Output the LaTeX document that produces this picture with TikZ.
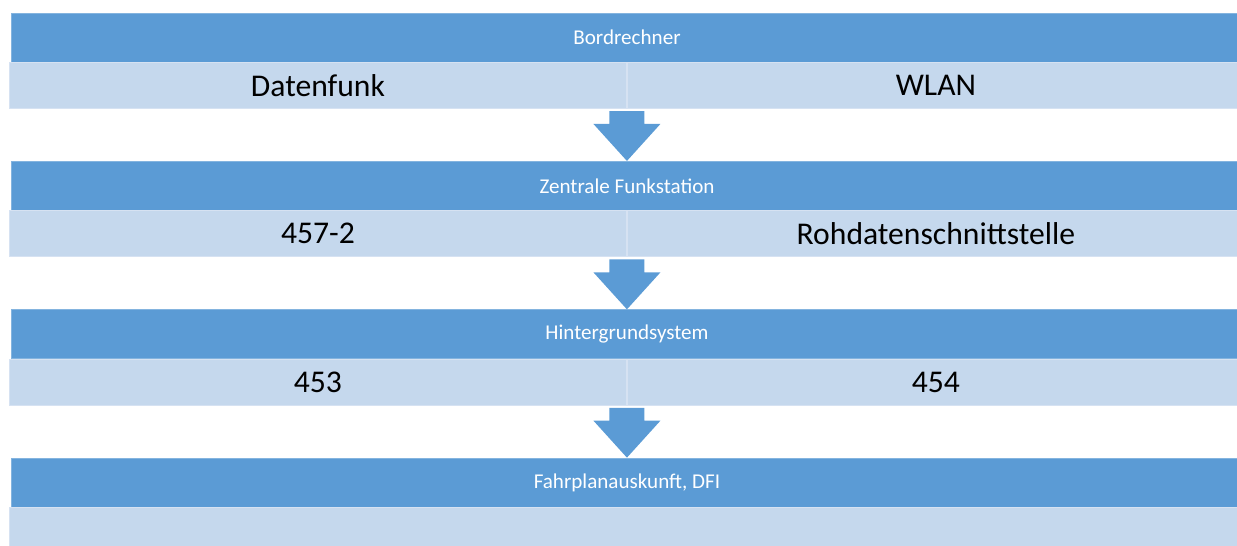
\documentclass[tikz,border=0pt]{standalone}
\usepackage{fontspec}
\setmainfont{Carlito}
\usetikzlibrary{positioning, calc}
\definecolor{headBlue}{RGB}{91, 155, 213}
\definecolor{cellBlue}{RGB}{197, 216, 237}
\definecolor{edgeBlue}{RGB}{214, 226, 242}
\tikzset{
    layer_head/.style={
        rectangle,
        fill=headBlue,
        draw=headBlue!75!white,
        line width=0.4pt,
        text=white,
        inner sep=0pt,
        minimum width=24.64cm,
        minimum height=0.98cm,
        font=\fontsize{12}{14}\selectfont
    },
    layer_cell/.style={
        rectangle,
        fill=cellBlue,
        draw=edgeBlue,
        line width=0.6pt,
        text=black,
        inner sep=0pt,
        minimum height=0.92cm,
        font=\fontsize{18}{21}\selectfont
    },
    cell_left/.style={
        layer_cell,
        minimum width=12.34cm
    },
    cell_right/.style={
        layer_cell,
        minimum width=12.34cm
    },
    layer_arrow/.style={
        fill=headBlue
    }
}

\begin{document}
\begin{tikzpicture}[x=0.02cm, y=-0.02cm]
    \useasboundingbox (0,0) rectangle (1237,545);

    % Schichten
    \node[layer_head] (hdrA) at (627, 37.5) {Bordrechner};
    \node[cell_left, anchor=north west] (datL) at (9, 62) {Datenfunk};
    \node[cell_right, right=0pt of datL] (datR) {WLAN};

    \node[layer_head] (hdrB) at (627, 185.8) {Zentrale Funkstation};
    \node[cell_left, anchor=north west] (zfsL) at (9, 210.3) {457-2};
    \node[cell_right, right=0pt of zfsL] (zfsR) {Rohdatenschnittstelle};

    \node[layer_head] (hdrC) at (627, 334.2) {Hintergrundsystem};
    \node[cell_left, anchor=north west] (hgsL) at (9, 358.7) {453};
    \node[cell_right, right=0pt of hgsL] (hgsR) {454};

    \node[layer_head] (hdrD) at (627, 482.5) {Fahrplanauskunft, DFI};
    \node[layer_cell, minimum width=24.68cm, anchor=north west] (fpaL) at (9, 507) {};

    % Pfeile zwischen den Schichten
    \foreach \a/\b in {datL/hdrB, zfsL/hdrC, hgsL/hdrD} {
        \coordinate (top) at ($(\a.south east)+(0,2)$);
        \coordinate (tip) at (\b.north -| \a.south east);
        \fill[layer_arrow]
            ($(top)+(-17.5,0)$) -- ($(top)+(17.5,0)$)
            -- ($(tip)+(17.5,-37)$) -- ($(tip)+(33.5,-37)$)
            -- (tip)
            -- ($(tip)+(-33.5,-37)$) -- ($(tip)+(-17.5,-37)$) -- cycle;
    }
\end{tikzpicture}
\end{document}
